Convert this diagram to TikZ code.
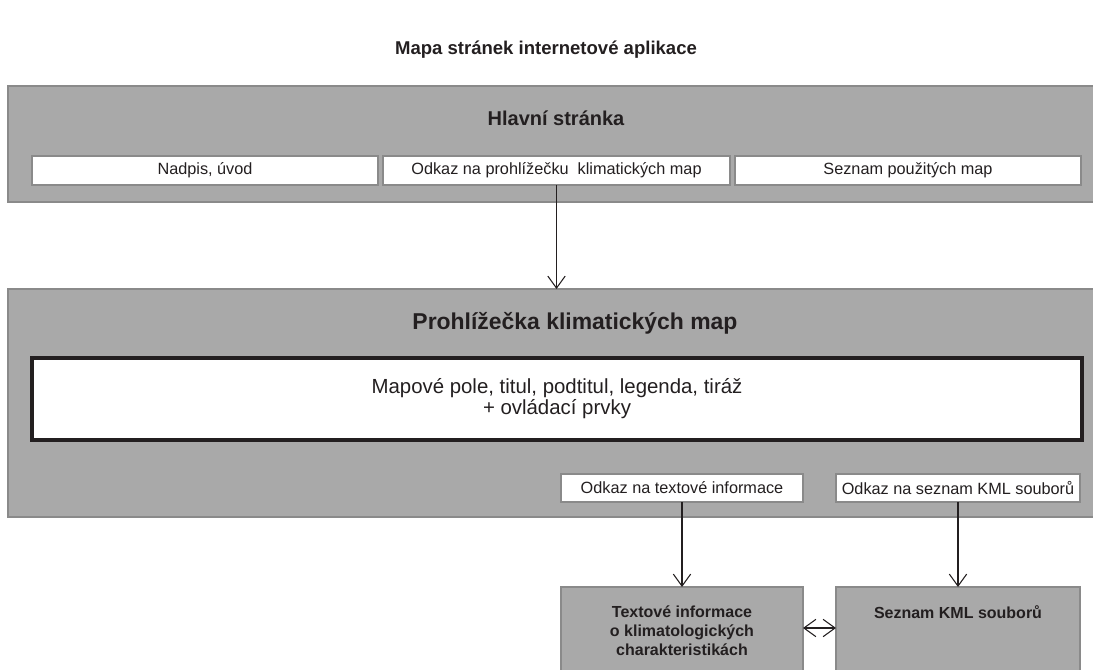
\documentclass[tikz,border=0pt]{standalone}
\usepackage{fontspec}
\setmainfont{Liberation Sans}
\usepackage{tikz}
\usetikzlibrary{arrows.meta}

\definecolor{panelgray}{HTML}{A9A9A9}
\definecolor{edgegray}{HTML}{8A8A8A}
\definecolor{inkgray}{HTML}{231F20}

\tikzset{
  panel/.style={draw=edgegray, line width=1pt, fill=panelgray, inner sep=0pt, outer sep=0pt},
  linkbox/.style={draw=edgegray, line width=0.8pt, fill=white, inner sep=0pt, outer sep=0pt,
    text=inkgray, font=\fontsize{12.2}{14}\selectfont},
  mapbox/.style={draw=inkgray, line width=3pt, fill=white, inner sep=0pt, outer sep=0pt,
    text=inkgray, align=center, font=\fontsize{15.3}{15.8}\selectfont},
  paneltitle/.style={text=inkgray, font=\bfseries\fontsize{15}{17}\selectfont},
  boldtext/.style={text=inkgray, align=center, font=\bfseries\fontsize{12}{14.2}\selectfont},
  link/.style={draw=inkgray, line width=1.1pt, -{Straight Barb[length=9pt,width=13pt,line width=0.8pt]}},
}

\begin{document}
\begin{tikzpicture}[x=0.75pt, y=-0.75pt]
  \useasboundingbox (0,0) rectangle (1093,669);
  \node[paneltitle, font=\bfseries\fontsize{13.9}{16}\selectfont] (maptitle) at (546,50) {Mapa stránek internetové aplikace};
  % hlavni stranka
  \node[panel, minimum width=1092*0.75pt, minimum height=116*0.75pt] (hlavni) at (554,144) {};
  \node[paneltitle] (hlavnititle) at (556,118) {Hlavní stránka};
  \node[linkbox, minimum width=346*0.75pt, minimum height=29*0.75pt] (nadpis) at (205,170.5) {Nadpis, úvod};
  \node[linkbox, minimum width=347*0.75pt, minimum height=29*0.75pt] (odkazprohl) at (556.5,170.5) {Odkaz na prohlížečku\ \ klimatických map};
  \node[linkbox, minimum width=346*0.75pt, minimum height=29*0.75pt] (seznampouz) at (908,170.5) {Seznam použitých map};
  % prohlizecka
  \node[panel, minimum width=1092*0.75pt, minimum height=228*0.75pt] (prohl) at (554,403) {};
  \node[paneltitle, font=\bfseries\fontsize{17.2}{19}\selectfont] (prohltitle) at (575,323) {Prohlížečka klimatických map};
  \node[mapbox, minimum width=1050*0.75pt, minimum height=82*0.75pt] (mapove) at (557,399)
    {Mapové pole, titul, podtitul, legenda, tiráž\\+ ovládací prvky};
  \node[linkbox, minimum width=242*0.75pt, minimum height=28*0.75pt] (odkaztext) at (682,488) {Odkaz na textové informace};
  \node[linkbox, minimum width=244*0.75pt, minimum height=28*0.75pt] (odkazkml) at (958,488) {Odkaz na seznam KML souborů};
  % stranky dole
  \node[panel, minimum width=242*0.75pt, minimum height=100*0.75pt] (textinfo) at (682,637) {};
  \node[panel, minimum width=244*0.75pt, minimum height=100*0.75pt] (seznamkml) at (958,637) {};
  \node[boldtext] (textinfolabel) at (682,631) {Textové informace\\o klimatologických\\charakteristikách};
  \node[boldtext] (seznamkmllabel) at (958,612) {Seznam KML souborů};
  % odkazy
  \draw[link] (odkazprohl.south) -- (odkazprohl.south |- prohl.north);
  \draw[link] (odkaztext.south) -- (textinfo.north);
  \draw[link] (odkazkml.south) -- (seznamkml.north);
  \draw[link, {Straight Barb[length=9pt,width=13pt,line width=0.8pt]}-{Straight Barb[length=9pt,width=13pt,line width=0.8pt]}]
    (textinfo.east |- 0,628) -- (seznamkml.west |- 0,628);
\end{tikzpicture}
\end{document}
